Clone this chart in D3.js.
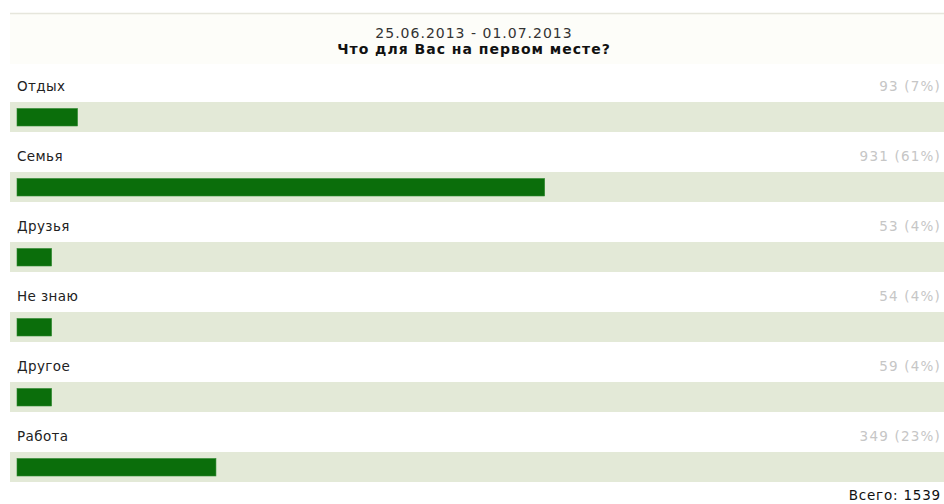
<!DOCTYPE html>
<html>
<head>
<meta charset="utf-8">
<script src="https://cdn.jsdelivr.net/npm/d3@7"></script>
<style>
  body { margin: 0; background: #fff; }
  text { font-family: "DejaVu Sans", sans-serif; }
</style>
</head>
<body>
<svg id="chart" width="944" height="504"></svg>
<script>
const period = "25.06.2013 - 01.07.2013";
const question = "Что для Вас на первом месте?";
const categories = ["Отдых", "Семья", "Друзья", "Не знаю", "Другое", "Работа"];
const votes = [93, 931, 53, 54, 59, 349];
const percents = [7, 61, 4, 4, 4, 23];
const total = 1539;

const width = 944, height = 504;
const data = categories.map((c, i) => ({name: c, votes: votes[i], pct: percents[i]}));

const svg = d3.select("#chart");

// top rule + faint cream area under it
svg.append("rect").attr("x", 10).attr("y", 14).attr("width", width - 10).attr("height", 50).attr("fill", "#fdfdf9");
svg.append("line")
  .attr("x1", 10).attr("x2", width).attr("y1", 13.5).attr("y2", 13.5)
  .attr("stroke", "#e6e6dc").attr("stroke-width", 1.5);

svg.append("text")
  .attr("x", 474).attr("y", 38)
  .attr("text-anchor", "middle")
  .style("font-size", "14px").style("letter-spacing", "1px").style("fill", "#333")
  .text(period);
svg.append("text")
  .attr("x", 474).attr("y", 54)
  .attr("text-anchor", "middle")
  .style("font-size", "14px").style("letter-spacing", "1px")
  .style("font-weight", "bold").style("fill", "#111")
  .text(question);

const y = d3.scaleBand()
  .domain(categories)
  .range([64, 484]);

const x = d3.scaleLinear()
  .domain([0, 100])
  .range([17, 882]);

const row = svg.selectAll("g.row")
  .data(data)
  .enter()
  .append("g")
    .attr("class", "row")
    .attr("transform", d => `translate(0,${y(d.name)})`);

row.append("rect")
  .attr("x", 10).attr("y", 38)
  .attr("width", width - 10).attr("height", 30)
  .attr("fill", "#e3e9d7");

row.append("rect")
  .attr("x", x(0)).attr("y", 44.5)
  .attr("width", d => x(d.pct) - x(0)).attr("height", 17.5)
  .attr("fill", "#0b6e0b")
  .attr("stroke", "#2f8a2f").attr("stroke-width", 0.6);

row.append("text")
  .attr("x", 17).attr("y", 27)
  .style("font-size", "13.5px").style("letter-spacing", "0.4px").style("fill", "#222")
  .text(d => d.name);

row.append("text")
  .attr("x", 941).attr("y", 27)
  .attr("text-anchor", "end")
  .style("font-size", "13.5px").style("letter-spacing", "1.2px").style("fill", "#c6c6c6")
  .text(d => `${d.votes} (${d.pct}%)`);

svg.append("text")
  .attr("x", 941).attr("y", 500)
  .attr("text-anchor", "end")
  .style("font-size", "13.5px").style("letter-spacing", "0.8px").style("fill", "#111")
  .text(`Всего: ${total}`);
</script>
</body>
</html>
